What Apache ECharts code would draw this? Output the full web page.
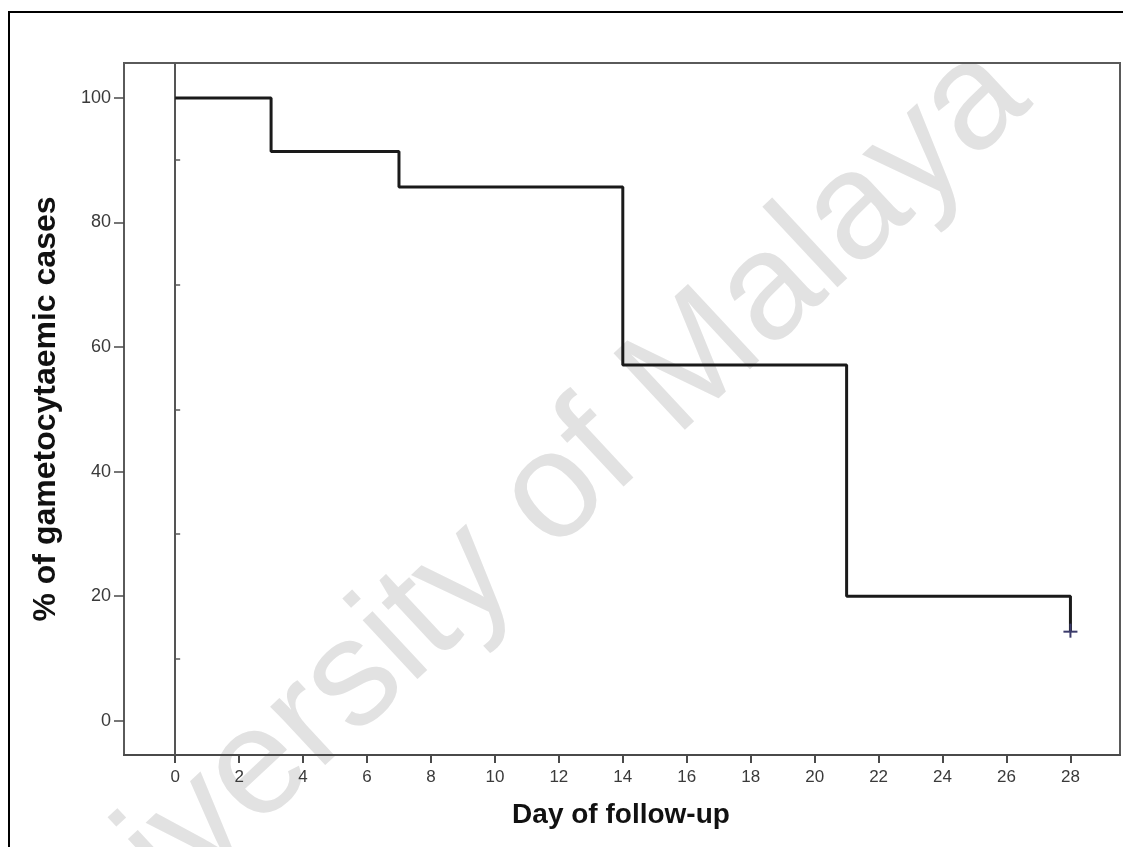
<!DOCTYPE html>
<html>
<head>
<meta charset="utf-8">
<script src="https://cdn.jsdelivr.net/npm/echarts@6/dist/echarts.min.js"></script>
<style>
html,body{margin:0;padding:0;background:#fff;}
#c{width:1123px;height:847px;}
</style>
</head>
<body>
<div id="c"></div>
<script>
// Kaplan-Meier step data
var days = [0, 3, 7, 14, 21, 28];
var pctCases = [100, 91.4, 85.7, 57.1, 20, 14.3];
var censorDays = [28];
var censorPct = [14.3];
var xTickValues = [0, 2, 4, 6, 8, 10, 12, 14, 16, 18, 20, 22, 24, 26, 28];
var yTickValues = [0, 20, 40, 60, 80, 100];
var yMinorTickValues = [10, 30, 50, 70, 90];
var xTitle = 'Day of follow-up';
var yTitle = '% of gametocytaemic cases';
var watermark = 'University of Malaya';

var FONT = '"Liberation Sans", Arial, sans-serif';
var chart = echarts.init(document.getElementById('c'), null, {renderer: 'canvas'});

var stepData = days.map(function (d, i) { return [d, pctCases[i]]; });
var censorData = censorDays.map(function (d, i) { return [d, censorPct[i]]; });

var option = {
  backgroundColor: '#fff',
  animation: false,
  grid: {
    left: 124, right: 3, top: 63, bottom: 92,
    show: true, borderColor: '#5a5a5a', borderWidth: 2, backgroundColor: 'transparent'
  },
  xAxis: {
    type: 'value', min: -1.6, max: 29.55,
    axisLine: {show: true, onZero: false, lineStyle: {color: '#4a4a4a', width: 2}},
    axisTick: {show: true, customValues: xTickValues, length: 8, lineStyle: {color: '#4a4a4a', width: 2}},
    axisLabel: {customValues: xTickValues, color: '#3a3a3a', fontSize: 17, fontFamily: FONT, margin: 14},
    splitLine: {show: false}
  },
  yAxis: [{
    type: 'value', min: -5.5, max: 105.6,
    axisLine: {show: true, onZero: false, lineStyle: {color: '#5a5a5a', width: 2}},
    axisTick: {show: true, customValues: yTickValues, length: 10, lineStyle: {color: '#4a4a4a', width: 1.5}},
    axisLabel: {customValues: yTickValues, color: '#3a3a3a', fontSize: 18, fontFamily: FONT, margin: 13},
    splitLine: {show: false}
  }, {
    type: 'value', min: -5.5, max: 105.6, position: 'left',
    axisLine: {show: false},
    axisTick: {show: true, inside: true, customValues: yMinorTickValues, length: 5, lineStyle: {color: '#5a5a5a', width: 1.5}},
    axisLabel: {show: false},
    splitLine: {show: false}
  }],
  graphic: [
    {type: 'rect', z: 100, silent: true,
     shape: {x: 9, y: 12, width: 1125, height: 850},
     style: {fill: 'none', stroke: '#000', lineWidth: 2}},
    {type: 'text', z: -10, silent: true, x: 505, y: 540, rotation: 43 * Math.PI / 180,
     style: {text: watermark, fill: '#e2e2e2', font: '152px ' + FONT, align: 'center', verticalAlign: 'middle'}},
    {type: 'text', z: 50, silent: true, x: 621, y: 815,
     style: {text: xTitle, fill: '#111', font: 'bold 28px ' + FONT, align: 'center', verticalAlign: 'middle'}},
    {type: 'text', z: 50, silent: true, x: 46, y: 409, rotation: Math.PI / 2,
     style: {text: yTitle, fill: '#111', font: 'bold 32px ' + FONT, align: 'center', verticalAlign: 'middle'}}
  ],
  series: [{
    type: 'line', step: 'end', data: stepData, symbol: 'none', z: 5,
    lineStyle: {color: '#1a1a1a', width: 3},
    markLine: {
      silent: true, symbol: 'none', label: {show: false},
      lineStyle: {color: '#555', width: 2, type: 'solid'},
      data: [{xAxis: 0}]
    }
  }, {
    type: 'custom', z: 6, data: censorData,
    renderItem: function (params, api) {
      var p = api.coord([api.value(0), api.value(1)]);
      var c = '#3b3b6b';
      return {type: 'group', children: [
        {type: 'line', shape: {x1: p[0] - 7, y1: p[1], x2: p[0] + 7, y2: p[1]}, style: {stroke: c, lineWidth: 2}},
        {type: 'line', shape: {x1: p[0], y1: p[1] - 8, x2: p[0], y2: p[1] + 6}, style: {stroke: c, lineWidth: 2}}
      ]};
    }
  }]
};
chart.setOption(option);
</script>
</body>
</html>
